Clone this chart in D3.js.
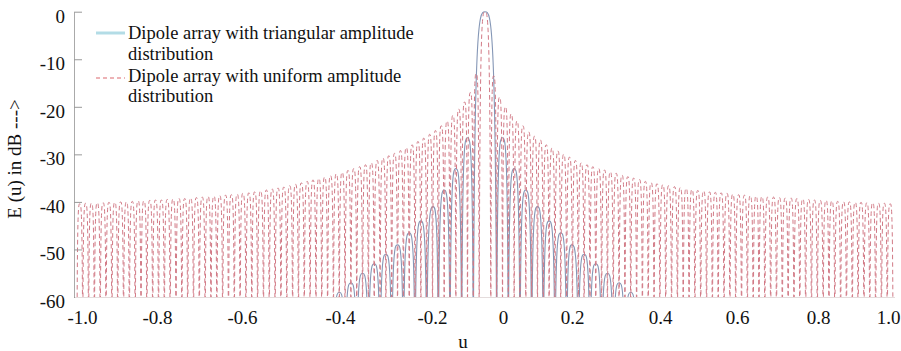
<!DOCTYPE html>
<html>
<head>
<meta charset="utf-8">
<script src="https://cdn.jsdelivr.net/npm/d3@7"></script>
<style>
  body { margin: 0; background: #fff; }
  text { font-family: "Liberation Serif", "Times New Roman", serif; fill: #111; }
</style>
</head>
<body>
<div id="chart"></div>
<script>
// axis ticks
const xTicks = [-1, -0.8, -0.6, -0.4, -0.2, 0, 0.2, 0.4, 0.6, 0.8, 1];
const xTickLabels = ['-1.0', '-0.8', '-0.6', '-0.4', '-0.2', '0', '0.2', '0.4', '0.6', '0.8', '1.0'];
const yTicks = [0, -10, -20, -30, -40, -50, -60];

// uniform amplitude: null positions, lobe peak positions and lobe levels (dB)
const uniformNullU = [
  -1.0136, -0.9981, -0.9825, -0.9670, -0.9514, -0.9359, -0.9203, -0.9048, -0.8892, -0.8737, -0.8581, -0.8426, -0.8270, -0.8115,
  -0.7964, -0.7827, -0.7690, -0.7553, -0.7415, -0.7278, -0.7141, -0.7004, -0.6867, -0.6730, -0.6592, -0.6455, -0.6318, -0.6181, -0.6044,
  -0.5919, -0.5800, -0.5681, -0.5562, -0.5443, -0.5324, -0.5205, -0.5086, -0.4967, -0.4848, -0.4729, -0.4610, -0.4491, -0.4372, -0.4253, -0.4134, -0.4015,
  -0.3890, -0.3763, -0.3636, -0.3509, -0.3383, -0.3256, -0.3129, -0.3002, -0.2876, -0.2749, -0.2622, -0.2495, -0.2369, -0.2242, -0.2115,
  -0.1985, -0.1821, -0.1657, -0.1492, -0.1328, -0.1164, -0.1000, -0.0836, -0.0671,
  -0.0343, -0.0179, -0.0014,
  0.0154, 0.0323, 0.0492, 0.0661, 0.0830, 0.0999, 0.1168, 0.1337, 0.1506, 0.1675, 0.1844,
  0.2010, 0.2143, 0.2275, 0.2408, 0.2540, 0.2673, 0.2805, 0.2938, 0.3070, 0.3203, 0.3335, 0.3468, 0.3600, 0.3733, 0.3865, 0.3998,
  0.4149, 0.4300, 0.4452, 0.4603, 0.4755, 0.4906, 0.5057, 0.5209, 0.5360, 0.5512, 0.5663, 0.5815, 0.5966,
  0.6112, 0.6256, 0.6400, 0.6543, 0.6687, 0.6831, 0.6975, 0.7119, 0.7263, 0.7407, 0.7551, 0.7695, 0.7839, 0.7983,
  0.8147, 0.8313, 0.8480, 0.8646, 0.8813, 0.8980, 0.9146, 0.9313, 0.9479, 0.9646, 0.9813, 0.9979, 1.0146
];
const uniformPeakU = [
  -1.0059, -0.9903, -0.9748, -0.9592, -0.9437, -0.9281, -0.9126, -0.8970, -0.8815, -0.8659, -0.8504, -0.8348, -0.8193, -0.8040,
  -0.7896, -0.7759, -0.7622, -0.7484, -0.7347, -0.7210, -0.7073, -0.6936, -0.6799, -0.6661, -0.6524, -0.6387, -0.6250, -0.6113, -0.5982,
  -0.5860, -0.5741, -0.5622, -0.5503, -0.5384, -0.5265, -0.5146, -0.5027, -0.4908, -0.4789, -0.4670, -0.4551, -0.4432, -0.4313, -0.4194, -0.4075, -0.3953,
  -0.3827, -0.3700, -0.3573, -0.3446, -0.3320, -0.3193, -0.3066, -0.2939, -0.2813, -0.2686, -0.2559, -0.2432, -0.2306, -0.2179, -0.2050,
  -0.1903, -0.1739, -0.1575, -0.1410, -0.1246, -0.1082, -0.0918, -0.0754,
  -0.0507,
  -0.0261, -0.0097, 0.0070,
  0.0239, 0.0408, 0.0577, 0.0746, 0.0915, 0.1084, 0.1253, 0.1422, 0.1591, 0.1760, 0.1927,
  0.2077, 0.2209, 0.2342, 0.2474, 0.2607, 0.2739, 0.2872, 0.3004, 0.3137, 0.3269, 0.3402, 0.3534, 0.3667, 0.3799, 0.3932, 0.4074,
  0.4225, 0.4376, 0.4528, 0.4679, 0.4831, 0.4982, 0.5133, 0.5285, 0.5436, 0.5588, 0.5739, 0.5891, 0.6039,
  0.6184, 0.6328, 0.6472, 0.6615, 0.6759, 0.6903, 0.7047, 0.7191, 0.7335, 0.7479, 0.7623, 0.7767, 0.7911, 0.8065,
  0.8230, 0.8397, 0.8563, 0.8730, 0.8897, 0.9063, 0.9230, 0.9396, 0.9563, 0.9730, 0.9896, 1.0063
];
const uniformPeakDb = [
  -40.4, -40.3, -40.3, -40.2, -40.2, -40.1, -40.1, -40, -40, -39.9,
  -39.8, -39.8, -39.7, -39.6, -39.6, -39.5, -39.4, -39.3, -39.3, -39.2,
  -39.1, -39, -38.9, -38.8, -38.7, -38.6, -38.5, -38.4, -38.2, -38.1,
  -37.9, -37.7, -37.5, -37.3, -37.1, -36.9, -36.6, -36.3, -36, -35.7,
  -35.4, -35.1, -34.8, -34.5, -34.1, -33.8, -33.4, -33, -32.6, -32.2,
  -31.8, -31.3, -30.8, -30.3, -29.8, -29.2, -28.6, -28, -27.3, -26.6,
  -25.8, -25, -24, -23, -21.8, -20.5, -19, -17, -13,
  0,
  -13.5, -18, -20, -21.5, -23, -24, -25.3, -26.2, -27, -28,
  -28.7, -29.3, -30, -30.6, -31.3, -31.8, -32.2, -32.6, -33, -33.3,
  -33.7, -34, -34.4, -34.7, -35, -35.3, -35.7, -36, -36.2, -36.4,
  -36.6, -36.8, -37, -37.2, -37.4, -37.6, -37.7, -37.9, -38, -38.1,
  -38.2, -38.4, -38.5, -38.6, -38.7, -38.8, -38.9, -39, -39, -39.1,
  -39.2, -39.2, -39.3, -39.4, -39.5, -39.6, -39.7, -39.7, -39.8, -39.9,
  -40, -40, -40.1, -40.1, -40.2, -40.2, -40.3, -40.3, -40.4
];

// triangular amplitude: only the part above -60 dB is visible
const triangularNullU = [
  -0.4372, -0.4134, -0.3890, -0.3636, -0.3383, -0.3129, -0.2876, -0.2622, -0.2369, -0.2115, -0.1821, -0.1492, -0.1164, -0.0836,
  -0.0179, 0.0154, 0.0492, 0.0830, 0.1168, 0.1506, 0.1844, 0.2143, 0.2408, 0.2673, 0.2938, 0.3203, 0.3468, 0.3733
];
const triangularPeakU = [
  -0.4253, -0.4012, -0.3763, -0.3510, -0.3256, -0.3003, -0.2749, -0.2496, -0.2242, -0.1968, -0.1657, -0.1328, -0.1000,
  -0.0507,
  -0.0013, 0.0323, 0.0661, 0.0999, 0.1337, 0.1675, 0.1994, 0.2276, 0.2541, 0.2806, 0.3071, 0.3336, 0.3601
];
const triangularPeakDb = [
  -61, -59, -57, -55, -53, -51, -49, -46.5, -44, -41, -37.5, -33, -26.5,
  0,
  -26.5, -33, -37.5, -41, -44, -46.5, -49, -51, -53, -55, -57, -59, -61
];

const width = 901, height = 351;
const floorDb = -90; // nulls fall off the bottom of the plot

const svg = d3.select('#chart').append('svg')
  .attr('width', width)
  .attr('height', height);

// tick labels sit where the figure puts them
const x = d3.scaleLinear()
  .domain(xTicks)
  .range([82, 157, 242, 340, 432, 503, 572, 660, 737, 818, 888]);

const y = d3.scaleLinear()
  .domain([-60, 0])
  .range([297, 11.7]);

svg.append('clipPath').attr('id', 'plot')
  .append('rect')
    .attr('x', 75).attr('y', 0)
    .attr('width', 820).attr('height', 297);

function lobePath(nulls, peakU, peakDb) {
  const p = d3.path();
  const yb = y(floorDb);
  p.moveTo(x(nulls[0]), yb);
  for (let i = 0; i < peakU.length; i++) {
    const xl = x(nulls[i]), xr = x(nulls[i + 1]);
    const xp = x(peakU[i]), yp = y(peakDb[i]);
    p.bezierCurveTo(xl, yp, xl + 0.45 * (xp - xl), yp, xp, yp);
    p.bezierCurveTo(xr - 0.45 * (xr - xp), yp, xr, yp, xr, yb);
  }
  return p.toString();
}

const plot = svg.append('g').attr('clip-path', 'url(#plot)');

plot.append('path')
  .attr('d', lobePath(triangularNullU, triangularPeakU, triangularPeakDb))
  .style('fill', 'none')
  .style('stroke', '#8597b6')
  .style('stroke-width', 1.1);

plot.append('path')
  .attr('d', lobePath(uniformNullU, uniformPeakU, uniformPeakDb))
  .style('fill', 'none')
  .style('stroke', '#d27a86')
  .style('stroke-width', 1)
  .style('stroke-dasharray', '4.5,3');

// axes
const yAxis = svg.append('g')
  .attr('transform', 'translate(74,0)')
  .call(d3.axisLeft(y).tickValues(yTicks).tickSizeInner(-8).tickSizeOuter(0).tickPadding(9)
    .tickFormat(d => String(d)));
yAxis.select('.domain').attr('stroke', '#aaa');
yAxis.selectAll('.tick line').attr('stroke', '#999');
yAxis.selectAll('text')
  .attr('dy', '0.55em')
  .style('font-size', '19px');

const xAxis = svg.append('g')
  .attr('transform', 'translate(0,297)')
  .call(d3.axisBottom(x).tickValues(xTicks).tickSize(0).tickPadding(14)
    .tickFormat((d, i) => xTickLabels[i]));
xAxis.select('.domain').attr('stroke', '#e4dcdc').attr('d', 'M75,0.5H895');
xAxis.selectAll('text').style('font-size', '19px');

svg.append('text')
  .attr('transform', 'translate(21,159) rotate(-90)')
  .attr('text-anchor', 'middle')
  .style('font-size', '19px')
  .text('E (u) in dB --->');

svg.append('text')
  .attr('x', 463).attr('y', 348)
  .attr('text-anchor', 'middle')
  .style('font-size', '19px')
  .text('u');

// legend
const legend = svg.append('g');
legend.append('line')
  .attr('x1', 96).attr('x2', 125).attr('y1', 33).attr('y2', 33)
  .style('stroke', '#b3dce6').style('stroke-width', 3);
legend.append('line')
  .attr('x1', 96).attr('x2', 125).attr('y1', 78).attr('y2', 78)
  .style('stroke', '#e79a9f').style('stroke-width', 1.5).style('stroke-dasharray', '4,3');

const legendLines = [
  ['Dipole array with triangular amplitude', 38.5],
  ['distribution', 59.5],
  ['Dipole array with uniform amplitude', 82],
  ['distribution', 101.5]
];
legend.selectAll('text.lg')
  .data(legendLines)
  .enter().append('text')
    .attr('class', 'lg')
    .attr('x', 128)
    .attr('y', d => d[1])
    .style('font-size', '18.5px')
    .text(d => d[0]);
</script>
</body>
</html>
